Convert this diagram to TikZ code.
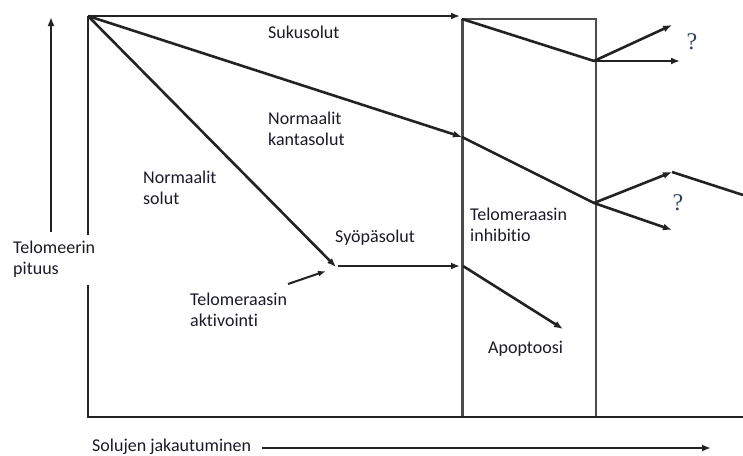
\documentclass[tikz,border=0pt]{standalone}
\usepackage{fontspec}
\setmainfont{Carlito}[Ligatures={NoCommon}]
\newfontfamily\qfont{Liberation Serif}
\usetikzlibrary{arrows.meta}
\definecolor{ink}{HTML}{222222}
\definecolor{txt}{HTML}{1A1A28}
\definecolor{qcol}{HTML}{2F3F60}
\begin{document}
\begin{tikzpicture}[x=1pt,y=-1pt,
  ln/.style={line width=2.6pt, draw=ink},
  arr/.style={ln, -{Latex[length=9pt,width=7pt]}},
  boxline/.style={line width=1.6pt, draw=black!70},
  lbl/.style={font=\fontsize{18}{21.5}\selectfont, text=txt, align=left, inner sep=0pt},
  qm/.style={font=\qfont\fontsize{24}{24}\selectfont, text=qcol, inner sep=0pt}]
\useasboundingbox (0,0) rectangle (743,455);
% coordinates
\coordinate (O) at (88,16);
\coordinate (TopEnd) at (460,16);
\coordinate (BoxTL) at (462,19);
\coordinate (BoxTR) at (596,19);
\coordinate (BoxBL) at (462,417);
\coordinate (BoxBR) at (596,417);
\coordinate (GapTop) at (88,235);
\coordinate (GapBot) at (88,285);
\coordinate (BL) at (88,417);
\coordinate (BR) at (743,417);
\coordinate (YA0) at (51,232);
\coordinate (YA1) at (51,17);
\coordinate (XA0) at (262,448);
\coordinate (XA1) at (711,448);
\coordinate (S1) at (594,61);
\coordinate (S2) at (672,25);
\coordinate (S3) at (680,61);
\coordinate (K1) at (462,137);
\coordinate (K2) at (594,203);
\coordinate (K3) at (672,172);
\coordinate (K4) at (743,195);
\coordinate (K5) at (672,230);
\coordinate (N1) at (336,267);
\coordinate (C0) at (338,266);
\coordinate (C1) at (460,266);
\coordinate (A0) at (463,266);
\coordinate (A1) at (563,329);
\coordinate (T0) at (288,284);
\coordinate (T1) at (326,271);
% inhibition box
\draw[boxline] (BoxTL) -- (BoxTR) -- (BoxBR);
\draw[line width=3pt, draw=black!70] (BoxTL) -- (BoxBL);
% plot frame
\draw[ln] (O) -- (GapTop);
\draw[ln] (GapBot) -- (BL) -- (BR);
% axes arrows
\draw[arr] (YA0) -- (YA1);
\draw[arr] (XA0) -- (XA1);
% germ cells
\draw[arr] (O) -- (TopEnd);
\draw[ln] (BoxTL) -- (S1);
\draw[arr] (S1) -- (S2);
\draw[arr] (S1) -- (S3);
% stem cells
\draw[arr] (O) -- (K1);
\draw[ln] (K1) -- (K2);
\draw[arr] (K2) -- (K3);
\draw[ln] (K3) -- (K4);
\draw[arr] (K2) -- (K5);
% normal cells
\draw[arr] (O) -- (N1);
\draw[arr] (C0) -- (C1);
\draw[arr] (A0) -- (A1);
\draw[ln, line width=2pt, -{Latex[length=8pt,width=6pt]}] (T0) -- (T1);
% labels
\node[lbl, anchor=west] (sukusolut) at (268,32) {Sukusolut};
\node[lbl, anchor=west] (kanta) at (268,129) {Normaalit\\kantasolut};
\node[lbl, anchor=west] (normaalit) at (143,188) {Normaalit\\solut};
\node[lbl, anchor=west] (syopa) at (335,238) {Syöpäsolut};
\node[lbl, anchor=west] (aktiv) at (190,310) {Telomeraasin\\aktivointi};
\node[lbl, anchor=west] (inhib) at (470,225) {Telomeraasin\\inhibitio};
\node[lbl, anchor=west] (apop) at (488,349) {Apoptoosi};
\node[lbl, anchor=west] (ylab) at (13,259) {Telomeerin\\pituus};
\node[lbl, anchor=west] (xlab) at (92,447) {Solujen jakautuminen};
\node[qm] (q1) at (692,42) {?};
\node[qm] (q2) at (678,203) {?};
\end{tikzpicture}
\end{document}
